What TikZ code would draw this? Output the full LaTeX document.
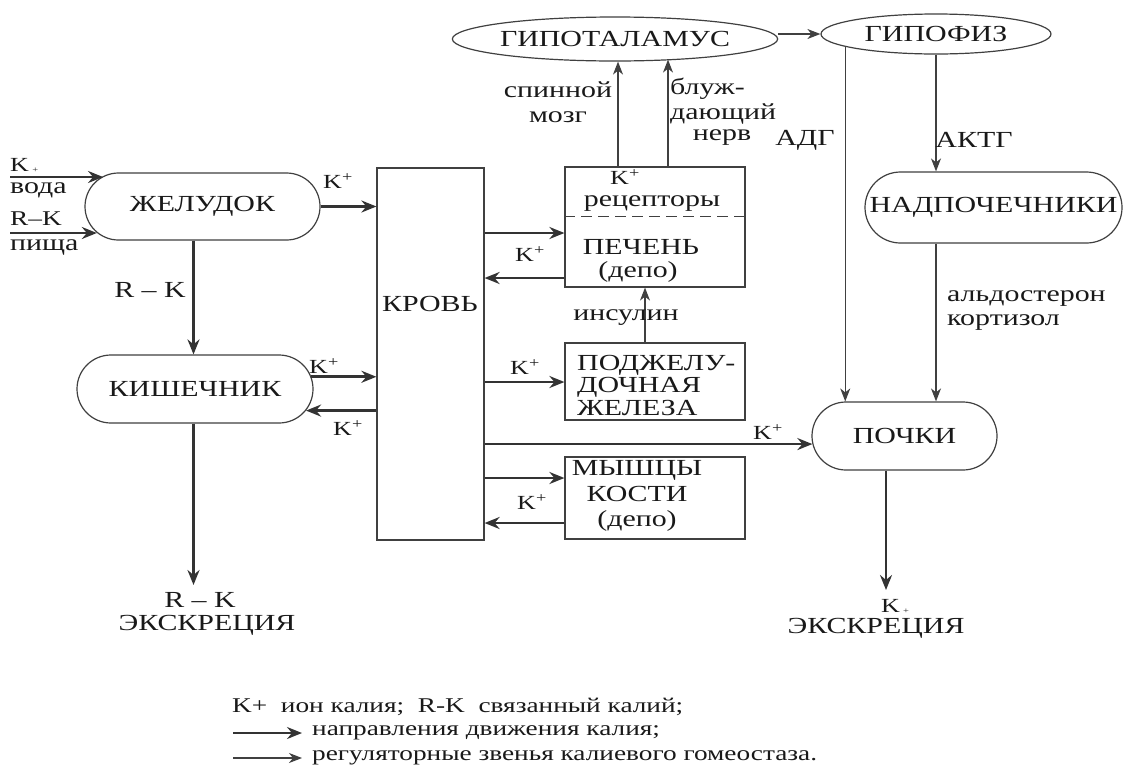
\documentclass[tikz,border=0pt]{standalone}
\usepackage{fontspec}
\setmainfont{Liberation Serif}[FakeStretch=1.3]
\usetikzlibrary{shapes.geometric,shapes.misc,arrows.meta,calc}
\begin{document}
\begin{tikzpicture}[x=1pt,y=-1pt,
  every node/.style={font=\fontsize{23}{26}\selectfont, inner sep=0pt, text=black!90},
  small/.style={font=\fontsize{20}{22}\selectfont},
  leg/.style={font=\fontsize{21}{24}\selectfont},
  flow/.style={draw=black!80, line width=2.8pt, -{Stealth[length=15pt,width=12pt,inset=5pt]}},
  reg/.style={draw=black!75, line width=1.2pt, -{Stealth[length=13pt,width=10pt,inset=4pt]}},
  stad/.style={rounded rectangle, draw=black!75, line width=1.2pt, minimum height=68pt},
  box/.style={rectangle, draw=black!75, line width=1.2pt},
  oval/.style={ellipse, draw=black!75, line width=1.2pt},
]
\fill[white] (0,0) rectangle (1124,769);
\useasboundingbox (0,0) rectangle (1124,769);

% ---------- main nodes
\node[stad, minimum width=235pt, minimum height=67pt] (zhel) at (202.5,206.5) {ЖЕЛУДОК};
\node[stad, minimum width=236pt] (kish) at (195,389) {КИШЕЧНИК};
\node[box, minimum width=107pt, minimum height=372pt] (krov) at (430.5,354) {};
\node (krovt) at (430,304) {КРОВЬ};
\node[box, minimum width=180pt, minimum height=120pt] (liver) at (655,227) {};
\node[box, minimum width=180pt, minimum height=77pt] (panc) at (655,381.5) {};
\node[box, minimum width=180pt, minimum height=82pt] (musc) at (655,498) {};
\node[oval, minimum width=270pt, minimum height=44pt] (hyp) at (615,39) {ГИПОТАЛАМУС};
\node[oval, minimum width=230pt, minimum height=40pt] (hypo) at (936,34) {ГИПОФИЗ};
\node[stad, minimum width=257pt, minimum height=71pt] (nadp) at (993.5,207.5) {НАДПОЧЕЧНИКИ};
\node[stad, minimum width=185pt, minimum height=68pt] (pochki) at (904.5,436) {ПОЧКИ};

% ---------- texts inside boxes
\draw[draw=black!75, line width=1.1pt, dash pattern=on 11pt off 6pt]
  ($(liver.north west)+(0,50)$) -- ($(liver.north east)+(0,50)$);
\node[small] (lk) at (625,177) {K\textsuperscript{+}};
\node (lrec) at (652,204) {рецепторы};
\node (lpech) at (641,247) {ПЕЧЕНЬ};
\node (ldepo) at (638,272) {(депо)};
\node[anchor=west, align=left, font=\fontsize{23}{22.5}\selectfont] (panct) at (577,385) {ПОДЖЕЛУ-\\ДОЧНАЯ\\ЖЕЛЕЗА};
\node[align=center, font=\fontsize{23}{25.5}\selectfont] (musct) at (637,496) {МЫШЦЫ\\КОСТИ\\(депо)};

% ---------- inputs to stomach
\coordinate (inA) at (10,177);
\coordinate (inB) at (10,233);
\draw[flow] (inA) -- (inA -| zhel.163);
\draw[flow] (inB) -- (inB -| zhel.194);
\node[small, anchor=west] (ink) at (10,165) {K\,\raisebox{-0.1ex}{\footnotesize +}};
\node[anchor=west] (inw) at (10,190) {вода};
\node[anchor=west, font=\fontsize{21}{24}\selectfont] (inr) at (10,219) {R–K};
\node[anchor=west] (inp) at (10,247) {пища};

% ---------- stomach / intestine / blood
\draw[flow] (zhel.east) -- (zhel.east -| krov.west);
\node[small] (k1) at (338,181) {K\textsuperscript{+}};
\draw[flow] ($(zhel.south)+(-9,0)$) -- ($(kish.north)+(-1.5,0)$);
\node (rk1) at (150,290) {R – K};
\draw[flow] (kish.6) -- (kish.6 -| krov.west);
\draw[flow] (kish.349 -| krov.west) -- (kish.349);
\node[small] (k2) at (324,366) {K\textsuperscript{+}};
\node[small] (k3) at (348,428) {K\textsuperscript{+}};
\coordinate (exL) at (193.5,585);
\draw[flow] ($(kish.south)+(-1.5,0)$) -- (exL);
\node (exLa) at (200,600) {R – K};
\node (exLb) at (207,625) {ЭКСКРЕЦИЯ};

% ---------- blood to organs
\coordinate (l1) at ($(liver.west)+(0,6)$);
\coordinate (l2) at ($(liver.west)+(0,51)$);
\draw[flow] (l1 -| krov.east) -- (l1);
\draw[flow] (l2) -- (l2 -| krov.east);
\node[small] (k4) at (530,254) {K\textsuperscript{+}};
\coordinate (p1) at ($(panc.west)+(0,0.5)$);
\draw[flow] (p1 -| krov.east) -- (p1);
\node[small] (k5) at (525,367) {K\textsuperscript{+}};
\draw[flow] (pochki.185 -| krov.east) -- (pochki.185);
\node[small] (k6) at (768,432) {K\textsuperscript{+}};
\coordinate (m1) at ($(musc.west)+(0,-20)$);
\coordinate (m2) at ($(musc.west)+(0,25)$);
\draw[flow] (m1 -| krov.east) -- (m1);
\draw[flow] (m2) -- (m2 -| krov.east);
\node[small] (k7) at (532,502) {K\textsuperscript{+}};

% ---------- regulation
\draw[reg] ($(panc.north)+(-10,0)$) -- ($(liver.south)+(-10,0)$);
\node (ins) at (626,318) {инсулин};
\draw[reg] ($(liver.north)+(-37,0)$) -- ($(hyp.south)+(3,0)$);
\draw[reg] ($(liver.north)+(13,0)$) -- ($(hyp.south)+(53,-2)$);
\node (sp1) at (558,90) {спинной};
\node (sp2) at (558,117) {мозг};
\node[anchor=west] (bl1) at (670,89) {блуж-};
\node[anchor=west] (bl2) at (670,114) {дающий};
\node (bl3) at (722,138) {нерв};
\draw[reg] (hypo.west -| hyp.east) -- (hypo.west);
\draw[reg] (hypo.188) -- (hypo.188 |- pochki.north);
\node (adg) at (805,140) {АДГ};
\draw[reg] (hypo.south) -- (hypo.south |- nadp.north);
\node (aktg) at (974,140) {АКТГ};
\draw[reg] (hypo.south |- nadp.south) -- (hypo.south |- pochki.north);
\node[anchor=west, align=left, font=\fontsize{23}{24}\selectfont] (ald) at (947,311) {альдостерон\\кортизол};

% ---------- kidney excretion
\coordinate (exR) at (886,590);
\draw[flow] (pochki.south -| exR) -- (exR);
\node[small] (exRa) at (895,606) {K\,\raisebox{-0.1ex}{\footnotesize +}};
\node (exRb) at (876,628) {ЭКСКРЕЦИЯ};

% ---------- legend
\node[leg, anchor=west] (leg1) at (232,707) {K+\ \ ион калия;\ \ R-K\ \ связанный калий;};
\coordinate (la1) at (233,733);
\coordinate (la2) at (302,733);
\draw[flow, line width=2.4pt] (la1) -- (la2);
\node[leg, anchor=west] (leg2) at (312,733) {направления движения калия;};
\coordinate (lb1) at (233,758);
\coordinate (lb2) at (302,758);
\draw[reg] (lb1) -- (lb2);
\node[leg, anchor=west] (leg3) at (312,758) {регуляторные звенья калиевого гомеостаза.};
\end{tikzpicture}
\end{document}
